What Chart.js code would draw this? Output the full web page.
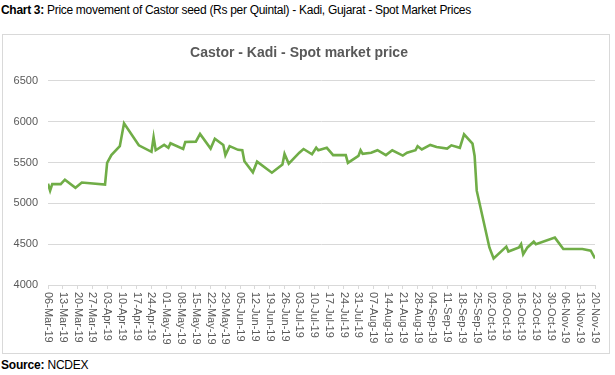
<!DOCTYPE html>
<html>
<head>
<meta charset="utf-8">
<script src="https://cdn.jsdelivr.net/npm/chart.js@4/dist/chart.umd.min.js"></script>
<style>
  body { margin: 0; width: 615px; height: 375px; background: #fff; font-family: "Liberation Sans", Arial, sans-serif; position: relative; overflow: hidden; }
  #head { position: absolute; left: 1px; top: 3px; font-size: 12px; letter-spacing: -0.3px; color: #000; white-space: nowrap; }
  #box { position: absolute; left: 2px; top: 34px; width: 606px; height: 318px; border: 1px solid #d9d9d9; }
  #src { position: absolute; left: 1px; top: 358px; font-size: 12px; letter-spacing: -0.2px; color: #000; }
</style>
</head>
<body>
<div id="head"><b>Chart 3:</b> Price movement of Castor seed (Rs per Quintal) - Kadi, Gujarat - Spot Market Prices</div>
<div id="box"><canvas id="graphic" width="606" height="318"></canvas></div>
<div id="src"><b>Source:</b> NCDEX</div>
<script>
// spot prices (trading days)
const priceDates = [
  '2019-03-06', '2019-03-07', '2019-03-08', '2019-03-12', '2019-03-14', '2019-03-19', '2019-03-22',
  '2019-04-02', '2019-04-03', '2019-04-05', '2019-04-09', '2019-04-11', '2019-04-18', '2019-04-24',
  '2019-04-25', '2019-04-26', '2019-04-30', '2019-05-02', '2019-05-03', '2019-05-09', '2019-05-10',
  '2019-05-15', '2019-05-17', '2019-05-22', '2019-05-24', '2019-05-28', '2019-05-29', '2019-05-31',
  '2019-06-04', '2019-06-06', '2019-06-07', '2019-06-11', '2019-06-13', '2019-06-20', '2019-06-25',
  '2019-06-26', '2019-06-28', '2019-07-03', '2019-07-05', '2019-07-09', '2019-07-11', '2019-07-12',
  '2019-07-16', '2019-07-18', '2019-07-19', '2019-07-25', '2019-07-26', '2019-07-31', '2019-08-01',
  '2019-08-02', '2019-08-06', '2019-08-09', '2019-08-13', '2019-08-16', '2019-08-21', '2019-08-23',
  '2019-08-27', '2019-08-28', '2019-08-30', '2019-09-03', '2019-09-06', '2019-09-11', '2019-09-13',
  '2019-09-17', '2019-09-19', '2019-09-23', '2019-09-24', '2019-09-25', '2019-10-01', '2019-10-03',
  '2019-10-09', '2019-10-10', '2019-10-15', '2019-10-16', '2019-10-17', '2019-10-19', '2019-10-22',
  '2019-10-23', '2019-11-01', '2019-11-05', '2019-11-14', '2019-11-18', '2019-11-20'
];
const prices = [
  5240, 5155, 5235, 5235, 5290, 5190, 5255,
  5230, 5495, 5590, 5700, 5980, 5710, 5630,
  5810, 5650, 5715, 5680, 5735, 5665, 5750,
  5755, 5850, 5670, 5790, 5715, 5590, 5700,
  5655, 5650, 5515, 5380, 5510, 5375, 5475,
  5605, 5485, 5620, 5665, 5600, 5680, 5650,
  5680, 5620, 5590, 5590, 5495, 5580, 5650,
  5605, 5620, 5650, 5590, 5650, 5585, 5620,
  5650, 5700, 5660, 5715, 5690, 5670, 5710,
  5680, 5845, 5730, 5580, 5155, 4460, 4325,
  4470, 4410, 4460, 4500, 4375, 4460, 4530,
  4500, 4580, 4440, 4440, 4420, 4325
];
const startDate = '2019-03-06';
const endDate = '2019-11-20';
const yTicks = [4000, 4500, 5000, 5500, 6000, 6500];

const months = ['Jan','Feb','Mar','Apr','May','Jun','Jul','Aug','Sep','Oct','Nov','Dec'];
const DAY = 86400000;
const t0 = Date.parse(startDate + 'T00:00:00Z');
const dayOf = d => Math.round((Date.parse(d + 'T00:00:00Z') - t0) / DAY);
const fmt = n => {
  const d = new Date(t0 + n * DAY);
  return String(d.getUTCDate()).padStart(2, '0') + '-' + months[d.getUTCMonth()] + '-' + String(d.getUTCFullYear()).slice(2);
};

const points = priceDates.map((d, i) => ({ x: dayOf(d), y: prices[i] }));
const lastDay = dayOf(endDate);

const grey = '#595959';
const font = { family: '"Liberation Sans", Arial, sans-serif', size: 11 };

// date labels read top to bottom, like the original
const downLabels = {
  id: 'downLabels',
  afterDraw(chart) {
    const sc = chart.scales.x;
    const ctx = chart.ctx;
    ctx.save();
    ctx.fillStyle = grey;
    ctx.font = '11px ' + font.family;
    ctx.textAlign = 'left';
    ctx.textBaseline = 'middle';
    sc.ticks.forEach(t => {
      const x = sc.getPixelForValue(t.value);
      ctx.save();
      ctx.translate(x, sc.top + 7);
      ctx.rotate(Math.PI / 2);
      ctx.fillText(fmt(t.value), 0, 0);
      ctx.restore();
    });
    ctx.restore();
  }
};

const areaGraphic = document.getElementById('graphic');

new Chart(areaGraphic, {
  type: 'line',
  data: {
    datasets: [{
      data: points,
      borderColor: '#70AD47',
      borderWidth: 2.6,
      pointRadius: 0,
      tension: 0
    }]
  },
  options: {
    responsive: false,
    animation: false,
    layout: { padding: { left: 0, right: 14, top: 0, bottom: 0 } },
    plugins: {
      legend: { display: false },
      tooltip: { enabled: false },
      title: {
        display: true,
        text: 'Castor - Kadi - Spot market price',
        color: grey,
        font: { family: font.family, size: 14, weight: 'bold' },
        padding: { top: 10, bottom: 19 }
      }
    },
    scales: {
      x: {
        type: 'linear',
        min: 0,
        max: lastDay,
        afterFit(s) { s.height = 68; },
        ticks: { stepSize: 7, autoSkip: false, maxRotation: 0, color: 'rgba(0,0,0,0)', font, callback: v => '' },
        grid: { drawOnChartArea: false, tickLength: 4, color: '#d9d9d9' },
        border: { color: '#d9d9d9' }
      },
      y: {
        min: 4000,
        max: 6500,
        afterFit(s) { s.width = 45; },
        afterBuildTicks(s) { s.ticks = yTicks.map(v => ({ value: v })); },
        ticks: { color: grey, font, padding: 10, callback: v => String(v) },
        grid: { color: '#d9d9d9', drawTicks: false },
        border: { display: false }
      }
    }
  },
  plugins: [downLabels]
});
</script>
</body>
</html>
